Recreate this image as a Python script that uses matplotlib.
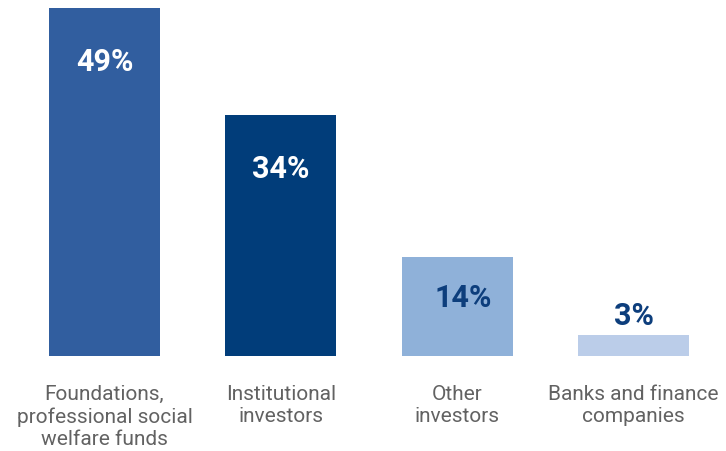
import matplotlib
matplotlib.use("Agg")
import matplotlib.pyplot as plt

plt.rcParams['font.family'] = ['Roboto', 'DejaVu Sans']

categories = ["Foundations,\nprofessional social\nwelfare funds",
              "Institutional\ninvestors",
              "Other\ninvestors",
              "Banks and finance\ncompanies"]
shares = [49, 34, 14, 3]
labels = ["49%", "34%", "14%", "3%"]

bar_colors = ["#315E9F", "#013D7A", "#8FB1D9", "#BBCDE9"]
text_colors = ["white", "white", "#0D3E7C", "#0D3E7C"]
# label offsets from bar top, in pixels (negative = inside the bar)
label_dy = [-53, -53, -40, 20]
label_dx = [0, 0, 6, 0]

W, H = 726, 452
fig = plt.figure(figsize=(W / 100, H / 100), dpi=100)
ax = fig.add_axes([0, 95 / H, 1, 357 / H])

px_per_unit = 176.33
x = list(range(len(shares)))
ax.bar(x, shares, width=111 / px_per_unit, color=bar_colors)
ax.set_xlim(-104.5 / px_per_unit, (W - 104.5) / px_per_unit)
ax.set_ylim(0, 357 / 7.1)

for xi, v, lab, c, dy, dx in zip(x, shares, labels, text_colors, label_dy, label_dx):
    ax.annotate(lab, (xi, v), xytext=(dx * 0.72, dy * 0.72), textcoords="offset points",
                ha="center", va="center", fontsize=22, fontweight="bold", color=c)

ax.set_xticks(x)
ax.set_xticklabels(categories, fontsize=15, color="#626262", linespacing=1.22)
ax.tick_params(axis="x", length=0, pad=20)
ax.set_yticks([])
for s in ax.spines.values():
    s.set_visible(False)

fig.savefig("out.png", dpi=100)
